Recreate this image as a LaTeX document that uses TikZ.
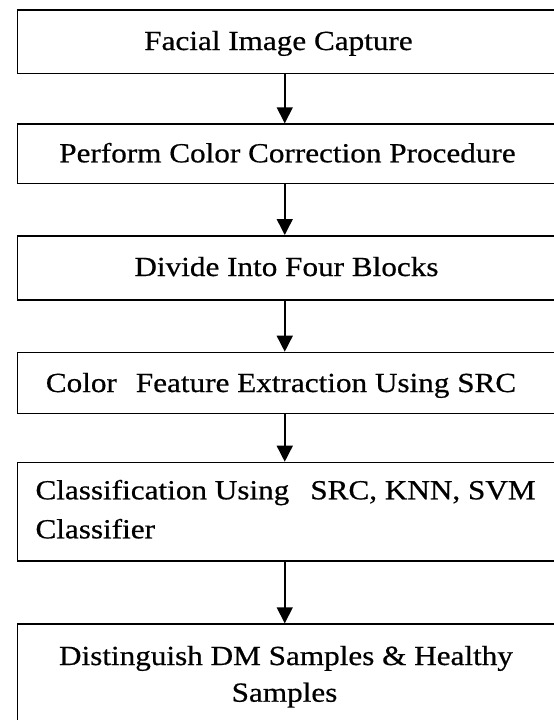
\documentclass[tikz,border=0pt]{standalone}
\usepackage{fontspec}
\setmainfont[FakeStretch=1.13,FakeBold=0.6]{Liberation Serif}
\usetikzlibrary{arrows.meta}
\begin{document}
\begin{tikzpicture}[x=1pt,y=-1pt,
  box/.style={draw=black,line width=1.5pt,minimum width=539.3pt,inner sep=0pt,anchor=north west},
  lbl/.style={anchor=base,font=\fontsize{27.6}{38}\selectfont,inner sep=0pt},
  lbll/.style={lbl,anchor=base west},
  arr/.style={line width=1.5pt,-{Triangle[width=16pt,length=16pt]}}]
\useasboundingbox (0,0) rectangle (554,720);
\clip (0,0) rectangle (554,720);
\node[box,minimum height=63.4pt] (b1) at (16.7,9.3) {};
\node[box,minimum height=59.4pt] (b2) at (16.7,123.3) {};
\node[box,minimum height=64.3pt] (b3) at (16.7,235) {};
\node[box,minimum height=61pt] (b4) at (16.7,351.7) {};
\node[box,minimum height=98.3pt] (b5) at (16.7,461.7) {};
\node[box,minimum height=102pt] (b6) at (16.7,623.3) {};
\node[lbl] (t1) at (278.5,50) {Facial Image Capture};
\node[lbl] (t2) at (287.5,162.3) {Perform Color Correction Procedure};
\node[lbl] (t3) at (286.5,276) {Divide Into Four Blocks};
\node[lbl] (t4) at (281,392) {Color\hspace{19pt}Feature Extraction Using SRC};
\node[lbll] (t5a) at (35.3,499.3) {Classification Using\hspace{21pt}SRC, KNN, SVM};
\node[lbll] (t5b) at (35.3,538.3) {Classifier};
\node[lbl] (t6a) at (286,665) {Distinguish DM Samples \& Healthy};
\node[lbl] (t6b) at (284.5,701.7) {Samples};
\foreach \a/\b in {b1/b2,b2/b3,b3/b4,b4/b5,b5/b6}
  \draw[arr] ([xshift=-2.35pt]\a.south) -- ([xshift=-2.35pt]\b.north);
\end{tikzpicture}
\end{document}
